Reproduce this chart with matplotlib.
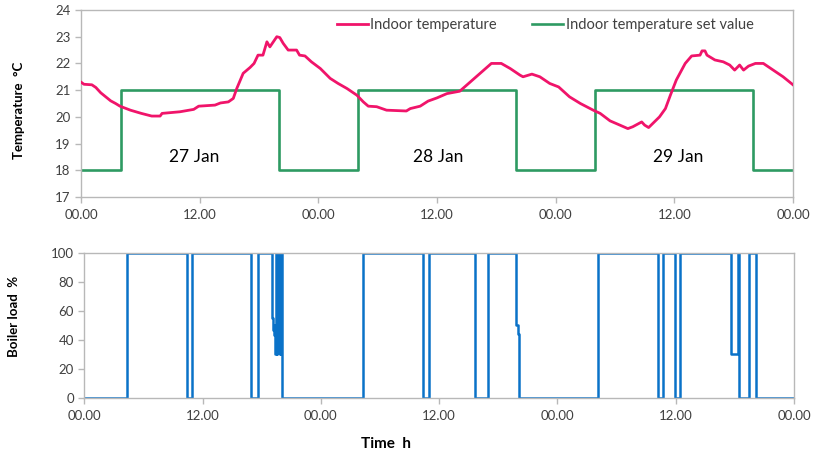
import matplotlib
matplotlib.use("Agg")
import matplotlib.pyplot as plt

# ---------------- data ----------------
temp_hours = [0, 0.3, 1.1, 1.5, 2.0, 2.5, 3.0, 3.5, 3.94, 5.0, 6.1, 7.15, 8.0, 8.2, 10.0, 11.4,
              11.9, 13.55, 14.1, 14.9, 15.4, 15.75, 16.4, 17.1, 17.5, 17.9, 18.4, 18.8, 19.1,
              19.45, 19.8, 20.1, 20.45, 20.95, 21.8, 22.1, 22.65, 23.3, 24.2, 25.2, 26.0, 26.9,
              27.9, 28.55, 29.05, 29.9, 30.9, 32.9, 33.3, 34.3, 35.1, 36.0, 37.0, 38.3, 41.5,
              42.5, 43.4, 44.4, 44.7, 45.6, 46.4, 47.4, 48.3, 49.4, 50.5, 51.8, 52.5, 53.5,
              54.5, 55.3, 55.8, 56.7, 57.0, 57.4, 58.5, 59.1, 59.6, 60.2, 61.1, 61.75, 62.6,
              62.8, 63.1, 63.3, 64.1, 64.95, 65.6, 66.1, 66.6, 67.0, 67.5, 68.2, 69.0, 70.0,
              71.0, 72.0]
indoor_temp = [21.3, 21.22, 21.2, 21.1, 20.9, 20.75, 20.6, 20.5, 20.4, 20.25, 20.13, 20.03, 20.03,
               20.13, 20.19, 20.28, 20.4, 20.44, 20.52, 20.56, 20.69, 21.06, 21.63, 21.85, 22.0,
               22.31, 22.31, 22.81, 22.62, 22.81, 23.0, 22.97, 22.75, 22.5, 22.5, 22.31, 22.28,
               22.06, 21.81, 21.44, 21.25, 21.06, 20.81, 20.56, 20.4, 20.38, 20.25, 20.22, 20.31,
               20.4, 20.59, 20.71, 20.87, 20.96, 22.0, 22.0, 21.81, 21.56, 21.5, 21.6, 21.5,
               21.25, 21.12, 20.75, 20.5, 20.25, 20.13, 19.85, 19.69, 19.56, 19.63, 19.81, 19.69,
               19.6, 20.0, 20.31, 20.81, 21.38, 22.0, 22.28, 22.31, 22.47, 22.47, 22.31, 22.13,
               22.06, 21.94, 21.75, 21.94, 21.75, 21.9, 22.0, 22.0, 21.75, 21.5, 21.2]

set_hours = [0, 4, 20, 28, 44, 52, 68, 72]
set_value = [18, 21, 18, 21, 18, 21, 18, 18]

boiler_hours = [0, 4.3, 10.4, 10.9, 16.9, 17.6, 19.0, 19.1, 19.2, 19.3, 19.35, 19.45, 19.5, 19.6,
                19.65, 19.75, 19.85, 19.9, 20.1, 28.3, 34.4, 35.0, 39.6, 40.95, 43.8, 43.95,
                44.1, 52.1, 58.2, 58.7, 59.9, 60.4, 65.65, 66.3, 66.4, 67.4, 68.1, 72]
boiler_load = [0, 100, 0, 100, 0, 100, 55, 47, 43, 50, 30, 100, 30, 100,
               35, 100, 30, 100, 0, 100, 0, 100, 0, 100, 50, 44,
               0, 100, 0, 100, 0, 100, 30, 100, 0, 100, 0, 0]

tick_hours = [0, 12, 24, 36, 48, 60, 72]
tick_labels = ["00.00", "12.00", "00.00", "12.00", "00.00", "12.00", "00.00"]
day_labels = ["27 Jan", "28 Jan", "29 Jan"]
day_label_hours = [11.4, 36.1, 60.4]

# ---------------- style ----------------
plt.rcParams['font.family'] = ['Lato', 'DejaVu Sans']
PINK = '#F0146A'
GREEN = '#2E9A62'
BLUE = '#0A72C8'
GRAY = '#B8B8B8'
TXT = '#404040'

fig = plt.figure(figsize=(8.16, 4.54), dpi=100)
ax1 = fig.add_axes([81/816, 1-197/454, 712/816, 187/454])
ax2 = fig.add_axes([84.3/816, 1-398/454, 709.7/816, 145.4/454])

for ax in (ax1, ax2):
    for s in ax.spines.values():
        s.set_color(GRAY)
        s.set_linewidth(1.0)
    ax.tick_params(axis='both', colors=GRAY, labelcolor=TXT, labelsize=9.5,
                   length=4, width=1, direction='out')
    ax.set_xlim(0, 72)
    ax.set_xticks(tick_hours)
    ax.set_xticklabels(tick_labels)
    ax.tick_params(axis='x', pad=5)

# top chart
ax1.plot(temp_hours, indoor_temp, color=PINK, lw=2.0, label='Indoor temperature', zorder=3)
ax1.plot(set_hours, set_value, color=GREEN, lw=1.9, drawstyle='steps-post',
         label='Indoor temperature set value', zorder=2)
ax1.set_ylim(17, 24)
ax1.set_yticks(range(17, 25))
for h, lab in zip(day_label_hours, day_labels):
    ax1.text(h, 18.5, lab, fontsize=12.5, ha='center', va='center', color='black')
leg = ax1.legend(loc='upper right', ncol=2, frameon=False, fontsize=10.5,
                 bbox_to_anchor=(0.963, 1.025), handlelength=2.1, handletextpad=0.2,
                 columnspacing=2.4)
for t in leg.get_texts():
    t.set_color(TXT)

# bottom chart
ax2.plot(boiler_hours, boiler_load, color=BLUE, lw=1.8, drawstyle='steps-post')
ax2.set_ylim(0, 100)
ax2.set_yticks(range(0, 101, 20))

# axis titles
fig.text(19/816, 1-110/454, 'Temperature  \u00b0C', rotation=90, fontsize=9.5,
         fontweight='bold', color='black', ha='center', va='center')
fig.text(14/816, 1-316/454, 'Boiler load  %', rotation=90, fontsize=9.5,
         fontweight='bold', color='black', ha='center', va='center')
fig.text(386/816, 1-444/454, 'Time  h', fontsize=11, fontweight='bold',
         color='black', ha='center', va='center')

fig.savefig('out.png', dpi=100)
